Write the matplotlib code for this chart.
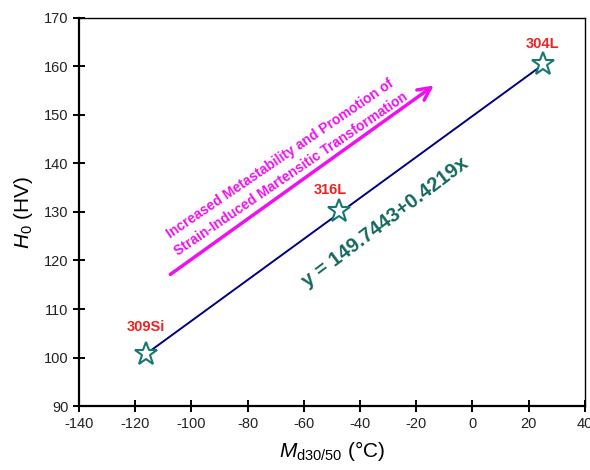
import matplotlib
matplotlib.use('Agg')
import matplotlib.pyplot as plt
import numpy as np

plt.rcParams['font.family'] = 'Liberation Sans'
plt.rcParams['mathtext.fontset'] = 'custom'
plt.rcParams['mathtext.rm'] = 'Liberation Sans'
plt.rcParams['mathtext.it'] = 'Liberation Sans:italic'
plt.rcParams['axes.unicode_minus'] = False

# data
alloys = ['309Si', '316L', '304L']
md30 = [-116.2, -47.5, 25.1]
h0 = [100.7, 130.2, 160.5]
fit_a = 149.7443
fit_b = 0.4219
xticks = [-140, -120, -100, -80, -60, -40, -20, 0, 20, 40]
yticks = [90, 100, 110, 120, 130, 140, 150, 160, 170]

fig = plt.figure(figsize=(5.9, 4.7), dpi=100)
ax = fig.add_axes([0.134, 0.136, 0.857, 0.826])

xs = np.array([md30[0], md30[-1]])
ax.plot(xs, fit_a + fit_b * xs, color='#000080', lw=1.4, zorder=2)
ax.plot(md30, h0, ls='none', marker='*', ms=17, mfc='white', mec='#17786f',
        mew=1.5, zorder=3)

for name, x, y, off in zip(alloys, md30, h0, [(0, 14.5), (-6, 10), (0, 9.5)]):
    ax.annotate(name, (x, y), xytext=off, textcoords='offset points',
                ha='center', va='bottom', color='#ee2222', fontsize=10.5,
                fontweight='bold')

ax.annotate('', xy=(-12.9, 156.4), xytext=(-108.3, 116.8),
            arrowprops=dict(arrowstyle='->, head_length=0.9, head_width=0.45',
                            color='#ee11ee', lw=2.5))
ax.text(-66.5, 139.4,
        'Increased Metastability and Promotion of\nStrain-Induced Martensitic Transformation',
        color='#ee11ee', fontsize=10, fontweight='bold', rotation=34.3,
        ha='center', va='center', rotation_mode='anchor', linespacing=1.45)
ax.text(-31.1, 127.9, 'y = 149.7443+0.4219x', color='#15685e', fontsize=14.5,
        fontweight='bold', rotation=37, ha='center', va='center',
        rotation_mode='anchor')

ax.set_xlim(-140, 40)
ax.set_ylim(90, 170)
ax.set_xticks(xticks)
ax.set_yticks(yticks)
ax.tick_params(direction='inout', length=8.5, width=1.4, labelsize=10.5,
               labelcolor='#222222')
for s in ['left', 'bottom']:
    ax.spines[s].set_linewidth(1.6)
for s in ['top', 'right']:
    ax.spines[s].set_linewidth(1.0)
ax.set_xlabel(r'$M_{\mathrm{d30/50}}$ (°C)', fontsize=15, labelpad=6)
ax.set_ylabel(r'$H_0$ (HV)', fontsize=15, labelpad=6)

fig.savefig('out.png', dpi=100)
